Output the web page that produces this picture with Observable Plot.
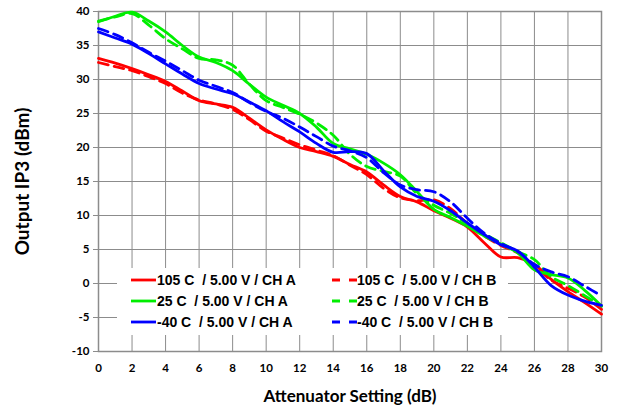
<!DOCTYPE html>
<html><head><meta charset="utf-8">
<script src="https://cdn.jsdelivr.net/npm/d3@7"></script>
<script src="https://cdn.jsdelivr.net/npm/@observablehq/plot@0.6"></script>
<style>body{margin:0;background:#fff}</style>
</head><body><div id="chart"></div>
<script>
const atten = [0,1,2,3,4,5,6,7,8,9,10,11,12,13,14,15,16,17,18,19,20,21,22,23,24,25,26,27,28,29,30];
const red105A = [33.1,32.4,31.6,30.7,29.7,28.3,26.9,26.4,25.9,24.3,22.6,21.2,20.0,19.4,18.7,17.5,16.4,14.5,12.8,12.0,10.7,9.6,8.3,6.0,3.9,3.8,2.8,0.6,-1.2,-2.8,-4.5];
const red105B = [32.5,31.9,31.3,30.4,29.4,28.0,27.0,26.4,25.6,24.1,22.4,21.4,20.4,19.6,18.8,17.4,16.0,14.0,12.6,12.2,12.3,11.0,8.8,7.0,5.6,4.5,2.6,0.5,-0.7,-2.0,-3.8];
const green25A = [38.5,39.3,39.9,38.6,37.0,35.0,33.3,32.5,31.3,29.3,27.4,26.2,25.0,23.0,20.6,19.8,19.0,17.7,16.0,13.5,10.9,9.7,8.4,7.0,5.8,4.5,2.0,1.3,0.8,-1.0,-3.3];
const green25B = [38.6,39.2,39.7,38.0,36.0,34.5,33.1,32.9,32.1,29.3,26.9,25.9,24.9,23.6,21.8,19.0,17.2,16.5,15.8,13.2,11.5,10.3,8.8,7.3,6.0,4.7,3.5,1.0,-0.3,-1.8,-3.3];
const blue40A = [37.0,36.1,35.2,33.8,32.3,30.8,29.4,28.6,27.9,26.7,25.4,23.8,22.3,20.6,19.3,19.4,19.1,16.6,14.2,12.8,12.1,10.7,8.9,7.2,5.7,4.8,2.4,-0.3,-1.7,-2.6,-3.2];
const blue40B = [37.5,36.6,35.4,34.0,32.7,31.3,29.9,29.0,28.1,26.6,25.3,24.3,23.0,21.6,20.2,19.5,18.5,16.3,14.5,13.8,13.5,12.0,9.6,7.4,5.9,4.7,2.8,1.7,1.0,-0.4,-1.8];

const seriesNames = ["105 C  / 5.00 V / CH A","105 C  / 5.00 V / CH B","25 C  / 5.00 V / CH A","25 C  / 5.00 V / CH B","-40 C  / 5.00 V / CH A","-40 C  / 5.00 V / CH B"];
const seriesValues = [red105A, red105B, green25A, green25B, blue40A, blue40B];
const seriesColors = ["#ff0000","#ff0000","#00ee00","#00ee00","#0000ff","#0000ff"];
const seriesDashed = [false,true,false,true,false,true];

const xTicks = [0,2,4,6,8,10,12,14,16,18,20,22,24,26,28,30];
const yTicks = [-10,-5,0,5,10,15,20,25,30,35,40];
const xTitle = "Attenuator Setting (dB)";
const yTitle = "Output IP3 (dBm)";

const gridColor = "#8c8c8c";
const lineMarks = seriesValues.map((vals, i) =>
  Plot.line(atten.map((a, j) => ({x: a, y: vals[j]})), {
    x: "x", y: "y", stroke: seriesColors[i], strokeWidth: 2.8,
    strokeDasharray: seriesDashed[i] ? "10,6" : null,
    curve: "catmull-rom"
  })
);

const plot = Plot.plot({
  width: 619, height: 416,
  marginLeft: 98, marginRight: 18, marginTop: 11, marginBottom: 65,
  style: {fontFamily: "Lato, 'Open Sans', sans-serif", fontWeight: "bold", fontSize: "11.5px", color: "#000", background: "#fff"},
  x: {domain: [0, 30]},
  y: {domain: [-10, 40]},
  marks: [
    Plot.gridX(xTicks, {stroke: gridColor, strokeOpacity: 1, strokeWidth: 1}),
    Plot.gridY(yTicks, {stroke: gridColor, strokeOpacity: 1, strokeWidth: 1}),
    Plot.frame({stroke: gridColor, strokeWidth: 1.5}),
    Plot.axisX({ticks: xTicks, tickFormat: d => String(d), tickSize: 0, tickPadding: 12, label: null}),
    Plot.axisY({ticks: yTicks, tickFormat: d => String(d), tickSize: 5, tickPadding: 4, stroke: gridColor, label: null}),
    Plot.text([xTitle], {frameAnchor: "bottom", dy: 50, fontSize: 17, fontWeight: "bold", fill: "#000"}),
    Plot.text([yTitle], {frameAnchor: "left", textAnchor: "middle", rotate: -90, dx: -76, fontSize: 19, fontWeight: "bold", fill: "#000"}),
    ...lineMarks
  ]
});
document.getElementById("chart").appendChild(plot);

// legend inside plot area
const svg = d3.select(plot);
const lg = svg.append("g");
lg.append("rect").attr("x", 117).attr("y", 268).attr("width", 391).attr("height", 67).attr("fill", "#fff");
const rowsY = [280, 301, 322];
const cols = [{sx: 131, tx: 157}, {sx: 332, tx: 357}];
seriesNames.forEach((name, i) => {
  const row = Math.floor(i / 2), col = i % 2;
  const y = rowsY[row], c = cols[col];
  lg.append("line").attr("x1", c.sx).attr("x2", c.sx + 25).attr("y1", y).attr("y2", y)
    .attr("stroke", seriesColors[i]).attr("stroke-width", 2.8)
    .attr("stroke-dasharray", seriesDashed[i] ? "8,9" : null);
  lg.append("text").attr("x", c.tx).attr("y", y).attr("dy", "0.36em")
    .attr("text-anchor", "start")
    .style("white-space", "pre")
    .attr("font-family", "'Liberation Sans', Arial, sans-serif").attr("font-weight", "bold")
    .attr("font-size", 14).attr("fill", "#000").text(name);
});
</script></body></html>
